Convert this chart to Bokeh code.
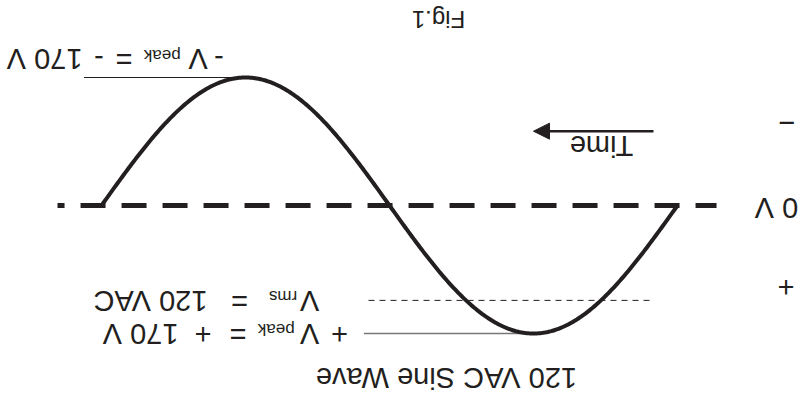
import numpy as np
from bokeh.plotting import figure
from bokeh.models import Range1d, Arrow, NormalHead
from bokeh.core.properties import value
from bokeh.embed import file_html
from bokeh.resources import INLINE

# ---- data ----
v_peak = 170          # volts
v_rms = 120           # volts
rms_guide_v = 126     # level of the dashed rms guide as drawn
phase_deg = np.linspace(0, 360, 361)          # one full cycle
voltage = v_peak * np.sin(np.radians(phase_deg))

zero_line_deg = [-24.4, 387.5]
peak_neg_line_deg = [270, 371]
peak_pos_line_deg = [90, 196]
rms_line_deg = [17.5, 195.6]
time_arrow_deg = [15, 90]
time_arrow_v = -98.7

# big labels (text, x in degrees, y in volts)
big_text = ["120 VAC Sine Wave", "Time", "0 V", "+", "\u2212",
            "-", "V", "=", "-", "170 V",
            "V", "=", "120 VAC",
            "+", "V", "=", "+", "170 V"]
big_x = [144.4, 47.5, -61.9, -67.8, -68.1,
         286.6, 299.7, 345.9, 361.6, 395.6,
         230.0, 273.75, 329.4,
         211.25, 230.0, 274.7, 296.6, 335.6]
big_y = [229.7, -78.5, 2.7, 108.9, -108.9,
         -195.2, -195.2, -195.2, -195.2, -195.2,
         126.2, 126.2, 126.2,
         170.0, 170.0, 170.0, 170.0, 170.0]

sub_text = ["peak", "rms", "peak"]
sub_x = [322.0, 246.5, 250.8]
sub_y = [-199.5, 121.5, 164.5]

fig_text = ["Fig.1"]
fig_x = [149.4]
fig_y = [-247.5]

INK = "#231f20"

p = figure(width=798, height=398,
           x_range=Range1d(423.125, -75.625),
           y_range=Range1d(256.31, -272.24),
           output_backend="svg", toolbar_location=None,
           x_axis_location=None, y_axis_location=None,
           min_border=0)
p.grid.visible = False
p.outline_line_color = None
p.background_fill_color = "white"
p.border_fill_color = "white"

# zero line (thick dashed)
p.line(zero_line_deg, [0, 0], line_color=INK, line_width=5, line_dash="25 16",
       line_dash_offset=4)

# guides
p.line(peak_neg_line_deg, [-v_peak, -v_peak], line_color=INK, line_width=1.2)
p.line(peak_pos_line_deg, [v_peak, v_peak], line_color="#777777", line_width=1.5)
p.line(rms_line_deg, [rms_guide_v, rms_guide_v], line_color=INK, line_width=1,
       line_dash="6 5")

# sine wave
p.line(phase_deg, voltage, line_color=INK, line_width=4, line_join="round")

# time arrow
p.add_layout(Arrow(end=NormalHead(size=16, fill_color=INK, line_color=INK),
                   x_start=time_arrow_deg[0], y_start=time_arrow_v,
                   x_end=time_arrow_deg[1], y_end=time_arrow_v,
                   line_color=INK, line_width=2.5))

font = value("Liberation Sans")
p.text(x=big_x, y=big_y, text=big_text, angle=np.pi, text_font=font,
       text_font_size="29px", text_align="center", text_baseline="middle",
       text_color=INK)
p.text(x=sub_x, y=sub_y, text=sub_text, angle=np.pi, text_font=font,
       text_font_size="17px", text_align="center", text_baseline="middle",
       text_color=INK)
p.text(x=fig_x, y=fig_y, text=fig_text, angle=np.pi, text_font=font,
       text_font_size="24px", text_align="center", text_baseline="middle",
       text_color=INK)

open("out.html", "w").write(file_html(p, INLINE))
